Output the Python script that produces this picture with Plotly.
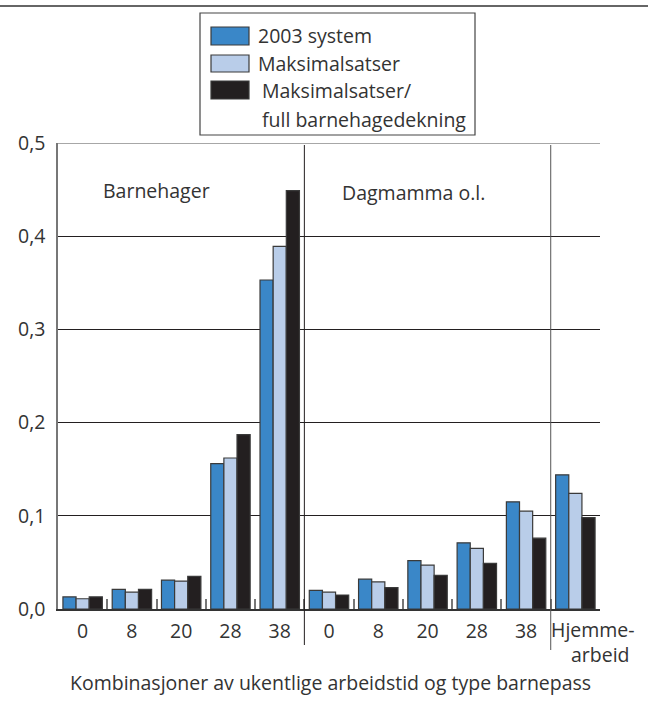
import plotly.graph_objects as go

# ---- data ----
categories = ["B0", "B8", "B20", "B28", "B38", "D0", "D8", "D20", "D28", "D38", "H"]
tick_labels = ["0", "8", "20", "28", "38", "0", "8", "20", "28", "38", "Hjemme-\narbeid"]
series_names = ["2003 system", "Maksimalsatser", "Maksimalsatser/\nfull barnehagedekning"]
series_colors = ["#3a87c8", "#b9cde9", "#231f20"]
v_2003 = [0.013, 0.021, 0.031, 0.156, 0.353, 0.020, 0.032, 0.052, 0.071, 0.115, 0.144]
v_maks = [0.011, 0.018, 0.030, 0.162, 0.389, 0.018, 0.029, 0.047, 0.065, 0.105, 0.124]
v_full = [0.013, 0.021, 0.035, 0.187, 0.449, 0.015, 0.023, 0.036, 0.049, 0.076, 0.098]
series_values = [v_2003, v_maks, v_full]
section_labels = ["Barnehager", "Dagmamma o.l."]
x_title = "Kombinasjoner av ukentlige arbeidstid og type barnepass"

W, H = 648, 706
L, R, T, B = 58, 48, 143, 97
PW, PH = W - L - R, H - T - B
FONT = "Open Sans"
TXT = "#333333"
FS = 19.5


def px(x):
    return (x - L) / PW


def py(y):
    return (H - B - y) / PH


fig = go.Figure()
for name, col, vals in zip(series_names, series_colors, series_values):
    fig.add_trace(go.Bar(
        x=categories, y=vals, name=name.replace("\n", " "),
        marker=dict(color=col, line=dict(color="#3a3a3a", width=1.2)),
        showlegend=False,
    ))

shapes = []
annotations = []

# top rule
shapes.append(dict(type="line", xref="paper", yref="paper", x0=px(0), x1=px(W),
                   y0=py(6), y1=py(6), line=dict(color="#333333", width=1.5)))
# top border of plot (0.5 line, grey)
shapes.append(dict(type="line", xref="paper", yref="y", x0=0, x1=1, y0=0.5, y1=0.5,
                   line=dict(color="#8a8a8a", width=1.5)))
# section separators
shapes.append(dict(type="line", xref="x", yref="paper", x0=4.5, x1=4.5,
                   y0=py(145), y1=py(645), line=dict(color="#231f20", width=1)))
shapes.append(dict(type="line", xref="x", yref="paper", x0=9.5, x1=9.5,
                   y0=py(145), y1=py(650), line=dict(color="#555555", width=1)))

# legend box
shapes.append(dict(type="rect", xref="paper", yref="paper", x0=px(200), x1=px(475),
                   y0=py(13), y1=py(135), line=dict(color="#444444", width=1.2),
                   fillcolor="white"))
sw_rows = [(27, 45), (55, 72), (81, 99)]
txt_y = [36, 63, 90]
for i, (name, col) in enumerate(zip(series_names, series_colors)):
    y0, y1 = sw_rows[i]
    shapes.append(dict(type="rect", xref="paper", yref="paper", x0=px(211), x1=px(249),
                       y0=py(y0), y1=py(y1), fillcolor=col,
                       line=dict(color="#3a3a3a", width=1.2)))
    lines = name.split("\n")
    for j, ln in enumerate(lines):
        annotations.append(dict(xref="paper", yref="paper", x=px(256 if i < 2 else 260),
                                y=py(txt_y[i] + 29 * j), text=ln, showarrow=False,
                                xanchor="left", yanchor="middle",
                                font=dict(family=FONT, size=FS, color=TXT)))

# section labels
annotations.append(dict(xref="paper", yref="paper", x=px(101), y=py(190), text=section_labels[0],
                        showarrow=False, xanchor="left", yanchor="middle",
                        font=dict(family=FONT, size=FS, color=TXT)))
annotations.append(dict(xref="paper", yref="paper", x=px(340), y=py(193), text=section_labels[1],
                        showarrow=False, xanchor="left", yanchor="middle",
                        font=dict(family=FONT, size=FS, color=TXT)))

# last (two-line) tick label
last = tick_labels[-1].split("\n")
annotations.append(dict(xref="paper", yref="paper", x=px(637), y=py(614),
                        text=last[0] + "<br>" + last[1] + "&nbsp;", showarrow=False,
                        xanchor="right", yanchor="top", align="right",
                        font=dict(family=FONT, size=FS, color=TXT)))
# axis title
annotations.append(dict(xref="paper", yref="paper", x=px(330), y=py(682), text=x_title,
                        showarrow=False, xanchor="center", yanchor="middle",
                        font=dict(family=FONT, size=FS, color=TXT)))

fig.update_layout(
    width=W, height=H,
    margin=dict(l=L, r=R, t=T, b=B, pad=0),
    paper_bgcolor="white", plot_bgcolor="white",
    barmode="group", bargap=0.2, bargroupgap=0.0,
    separators=", ",
    font=dict(family=FONT, size=FS, color=TXT),
    shapes=shapes, annotations=annotations,
    showlegend=False,
)
fig.update_xaxes(
    type="category", categoryorder="array", categoryarray=categories,
    tickmode="array", tickvals=categories,
    ticktext=tick_labels[:-1] + [""],
    tickson="boundaries", ticks="inside", ticklen=10, tickwidth=1.5, tickcolor="#777777",
    showline=True, linecolor="#333333", linewidth=2,
    showgrid=False, zeroline=False, ticklabelstandoff=4,
    tickfont=dict(family=FONT, size=FS, color=TXT),
    range=[-0.5, 10.5],
)
fig.update_yaxes(
    range=[0, 0.5], tickvals=[0, 0.1, 0.2, 0.3, 0.4, 0.5], tickformat=".1f",
    showgrid=True, gridcolor="#231f20", gridwidth=1,
    showline=True, linecolor="#777777", linewidth=1.5,
    zeroline=False, ticks="", ticklabelstandoff=7,
    tickfont=dict(family=FONT, size=FS, color=TXT),
)

fig.write_html("out.html", config={"displayModeBar": False},
               post_script="document.body.style.margin='0';")
